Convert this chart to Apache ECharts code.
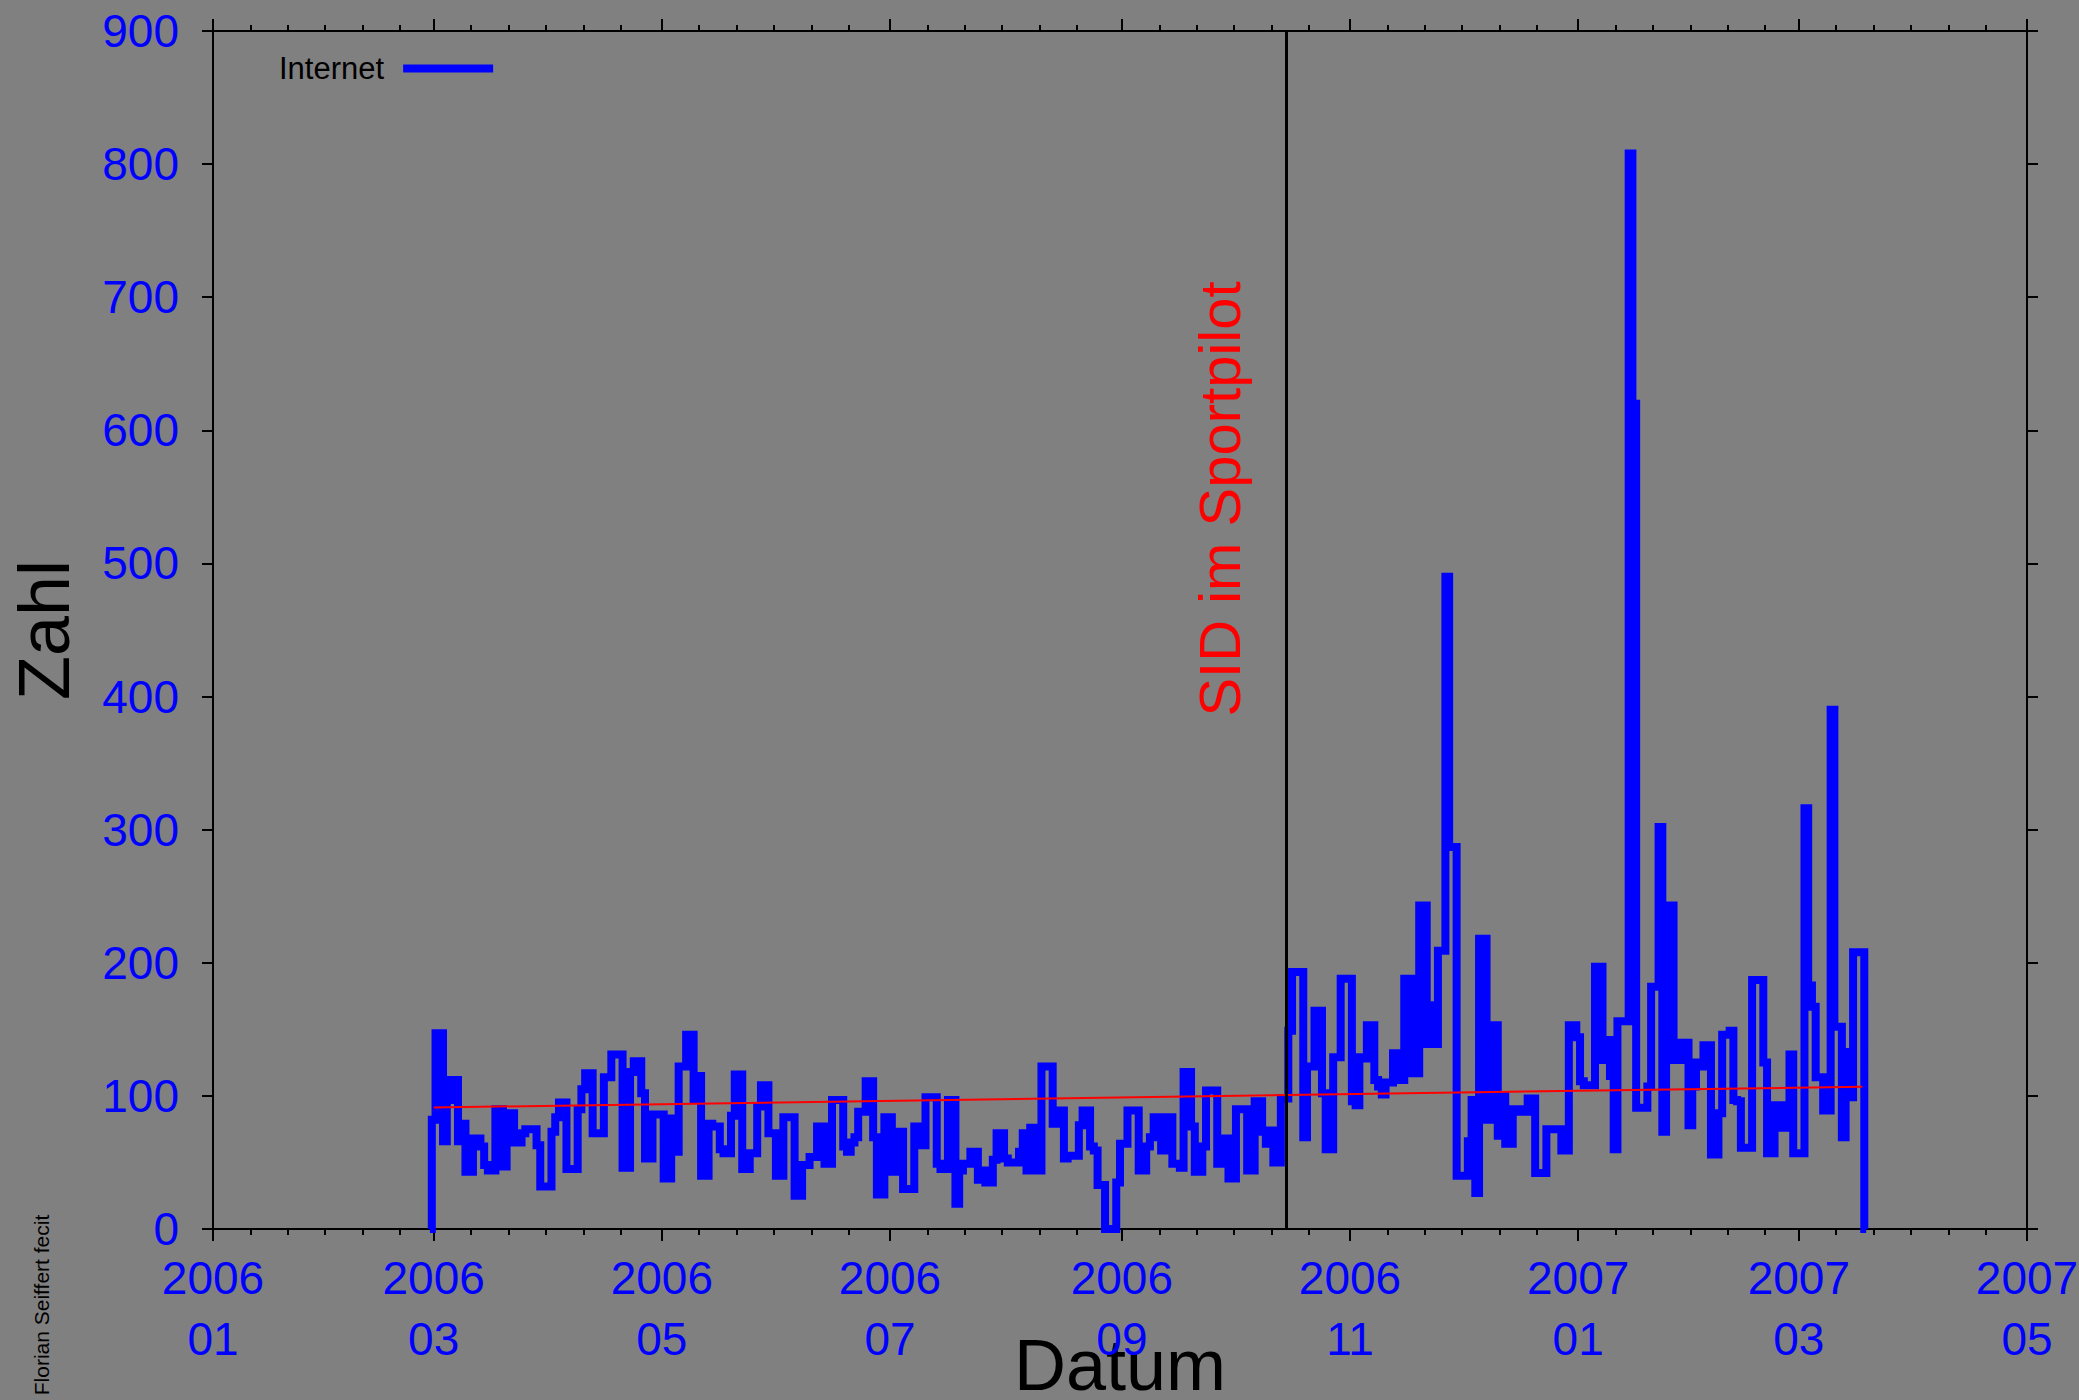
<!DOCTYPE html>
<html>
<head>
<meta charset="utf-8">
<style>
  html, body { margin: 0; padding: 0; background: #808080; }
  #chart { width: 2079px; height: 1400px; }
</style>
<script src="https://cdn.jsdelivr.net/npm/echarts@6/dist/echarts.min.js"></script>
</head>
<body>
<div id="chart"></div>
<script>
// ---- data (daily values, first value on firstDay) ----
const firstDay = [2006, 2, 28];   // year, month, day
const internetMarApr = [0, 82,147,147,66,97,112,112,66,79,43,
  43,68,68,62,48,44,44,90,90,47,
  87,87,65,65,72,75,75,75,63,32,
  32,32,73,84,95,95,45,45,45,90,
  105,117,117,72,72,72,114,114,131,131,
  131,46,46,118,126,126,102,53,53,86,
  86,86,38];
const internetMayJun = [38,83,58,122,122,146,146,97,115,40,
  40,79,77,77,60,57,57,85,116,116,
  45,45,57,57,92,108,108,72,72,40,
  40,84,84,84,25,25,48,48,54,54,
  77,77,49,49,97,97,97,62,58,65,
  69,88,88,111,111,69,26,26,84,84,
  43,43];
const internetJulSep = [73,30,30,30,77,77,63,99,99,99,
  49,45,45,97,97,19,44,49,49,58,
  58,37,44,35,35,52,72,72,53,50,
  50,50,58,72,44,76,76,44,122,122,
  122,79,89,89,53,55,55,55,78,89,
  89,62,59,33,33,0,0,0,35,64,
  64,89,89,89,44,44];
const internetSepNov = [62,69,84,84,59,84,84,49,49,46,
  118,118,77,43,43,62,104,104,104,49,
  68,68,38,38,90,90,90,44,44,96,
  96,73,64,74,50,50,98,98,149,193,
  193,193,69,122,122,164,164,102,60,60,
  129,129,188,188,188,96,93,129,128,153,
  153,112,107];
const internetNovJan = [101,110,110,132,129,112,188,188,117,117,
  243,243,139,168,139,209,209,490,287,287,
  40,40,40,66,97,27,218,218,82,153,
  153,70,100,64,64,90,90,88,88,98,
  98,42,42,42,75,75,75,75,59,59,
  153,153,144,111,108,108,108,197,197,127,
  142,115,60,156,156];
const internetJanMar = [156,808,620,91,91,91,107,182,182,302,
  73,243,243,127,127,140,140,78,107,125,
  122,138,138,56,56,87,146,146,149,97,
  96,61,61,61,187,187,187,125,57,57,
  93,93,76,76,131,57,57,57,316,183,
  167,114,114,89,89,390,152,152,69,133,
  99,208,208,208,0];

const trendDates = ['2006-03-01', '2007-03-18'];
const trendValues = [91.3, 106.9];

const eventDate = '2006-10-15';
const eventLabel = 'SID im Sportpilot';

const majorTickDates = ['2006-01-01','2006-03-01','2006-05-01','2006-07-01','2006-09-01',
  '2006-11-01','2007-01-01','2007-03-01','2007-05-01'];

// ---- build ----
function ts(s) { const p = s.split('-').map(Number); return new Date(p[0], p[1]-1, p[2]).getTime(); }
const internet = [].concat(internetMarApr, internetMayJun, internetJulSep, internetSepNov, internetNovJan, internetJanMar);
const internetData = internet.map((v, i) => [new Date(firstDay[0], firstDay[1]-1, firstDay[2] + i).getTime(), v]);
const trendData = trendDates.map((d, i) => [ts(d), trendValues[i]]);
const majorTicks = majorTickDates.map(ts);
const minorTicks = [];
for (let i = 0; i < majorTicks.length - 1; i++) {
  const d0 = new Date(majorTicks[i]);
  for (let k = 1; k <= 5; k++) {
    const t = new Date(d0.getFullYear(), d0.getMonth(), d0.getDate() + 10*k).getTime();
    if (t < majorTicks[i+1]) minorTicks.push(t);
  }
}
const xMin = majorTicks[0], xMax = majorTicks[majorTicks.length-1];
const FONT = 'Liberation Sans, Arial, sans-serif';

function pad(n) { return (n < 10 ? '0' : '') + n; }

const baseX = {
  type: 'value', min: xMin, max: xMax, gridIndex: 0, scale: true,
  splitLine: { show: false },
  axisLine: { onZero: false, show: false },
  axisLabel: { show: false },
  axisPointer: { show: false }
};

const chart = echarts.init(document.getElementById('chart'), null, { renderer: 'svg' });
chart.setOption({
  backgroundColor: '#808080',
  animation: false,
  grid: { left: 213, right: 52, top: 31, bottom: 171, containLabel: false, outerBoundsMode: 'none' },
  legend: {
    data: ['Internet'], left: 274, top: 48, align: 'right',
    icon: 'rect', itemWidth: 90, itemHeight: 8,
    textStyle: { color: '#000', fontSize: 31, fontFamily: FONT, padding: [0, 14, 0, 0] }
  },
  xAxis: [
    Object.assign({}, baseX, {
      position: 'bottom',
      name: 'Datum', nameLocation: 'middle', nameGap: 100, nameMoveOverlap: false,
      nameTextStyle: { color: '#000', fontSize: 72, fontFamily: FONT },
      axisLine: { show: true, onZero: false, lineStyle: { color: '#000', width: 2 } },
      axisTick: { show: true, inside: false, length: 12, lineStyle: { color: '#000', width: 2 }, customValues: majorTicks },
      axisLabel: {
        show: true, customValues: majorTicks, margin: 18,
        color: '#0000ff', fontSize: 46, fontFamily: FONT, lineHeight: 61,
        formatter: function (v) { const d = new Date(v); return d.getFullYear() + '\n' + pad(d.getMonth()+1); }
      }
    }),
    Object.assign({}, baseX, {
      position: 'top',
      axisLine: { show: true, onZero: false, lineStyle: { color: '#000', width: 2 } },
      axisTick: { show: true, inside: false, length: 12, lineStyle: { color: '#000', width: 2 }, customValues: majorTicks }
    }),
    Object.assign({}, baseX, {
      position: 'bottom',
      axisTick: { show: true, inside: false, length: 6, lineStyle: { color: '#000', width: 2 }, customValues: minorTicks }
    }),
    Object.assign({}, baseX, {
      position: 'top',
      axisTick: { show: true, inside: false, length: 6, lineStyle: { color: '#000', width: 2 }, customValues: minorTicks }
    })
  ],
  yAxis: [
    {
      type: 'value', min: 0, max: 900, interval: 100, position: 'left',
      name: 'Zahl', nameLocation: 'middle', nameGap: 133, nameMoveOverlap: false,
      nameTextStyle: { color: '#000', fontSize: 72, fontFamily: FONT },
      splitLine: { show: false },
      axisLine: { show: true, onZero: false, lineStyle: { color: '#000', width: 2 } },
      axisTick: { show: true, inside: false, length: 11, lineStyle: { color: '#000', width: 2 } },
      axisLabel: { color: '#0000ff', fontSize: 46, fontFamily: FONT, margin: 34 }
    },
    {
      type: 'value', min: 0, max: 900, interval: 100, position: 'right',
      splitLine: { show: false },
      axisLine: { show: true, onZero: false, lineStyle: { color: '#000', width: 2 } },
      axisTick: { show: true, inside: false, length: 11, lineStyle: { color: '#000', width: 2 } },
      axisLabel: { show: false }
    }
  ],
  series: [
    {
      name: 'Internet', type: 'line', step: 'middle', xAxisIndex: 0, yAxisIndex: 0,
      data: internetData, showSymbol: false, symbol: 'none',
      color: '#0000ff',
      lineStyle: { color: '#0000ff', width: 8, join: 'miter', cap: 'butt' },
      silent: true,
      markLine: {
        silent: true, symbol: ['none', 'none'], animation: false,
        label: { show: false },
        lineStyle: { color: '#000', width: 3, type: 'solid' },
        data: [{ xAxis: ts(eventDate) }]
      }
    },
    {
      name: 'Trend', type: 'line', xAxisIndex: 0, yAxisIndex: 0,
      data: trendData, showSymbol: false, symbol: 'none', silent: true,
      color: '#ff0000',
      lineStyle: { color: '#ff0000', width: 2 }
    }
  ],
  graphic: [
    {
      type: 'text', x: 1219, y: 499, rotation: Math.PI / 2, silent: true,
      style: { text: eventLabel, fill: '#ff0000', fontSize: 58, fontFamily: FONT, align: 'center', verticalAlign: 'middle' }
    },
    {
      type: 'text', x: 41, y: 1305, rotation: Math.PI / 2, silent: true,
      style: { text: 'Florian Seiffert fecit', fill: '#000', fontSize: 21, fontFamily: FONT, align: 'center', verticalAlign: 'middle' }
    }
  ]
});
</script>
</body>
</html>
